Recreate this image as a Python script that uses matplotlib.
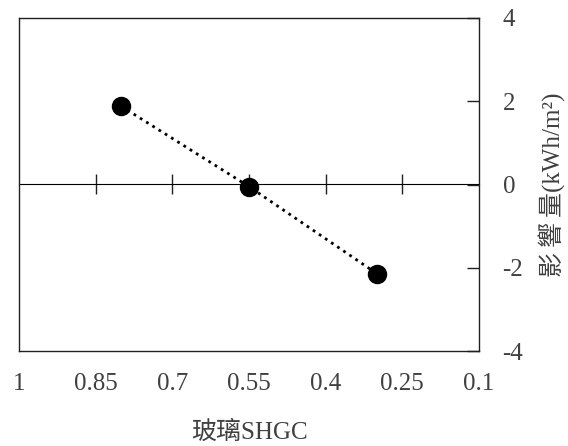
import matplotlib
matplotlib.use("Agg")
import matplotlib.pyplot as plt

# data
shgc = [0.8, 0.55, 0.3]
impact = [1.88, -0.05, -2.14]
x_ticks = [1, 0.85, 0.7, 0.55, 0.4, 0.25, 0.1]
x_tick_labels = ["1", "0.85", "0.7", "0.55", "0.4", "0.25", "0.1"]
y_ticks = [-4, -2, 0, 2, 4]

plt.rcParams['font.family'] = ['Liberation Serif', 'Noto Sans CJK TC']
plt.rcParams['axes.unicode_minus'] = False
text_color = '#404040'
line_color = '#202020'

fig = plt.figure(figsize=(5.68, 4.46), dpi=100)
ax = fig.add_axes([19 / 568, 1 - 351 / 446, 460 / 568, 333 / 446])

ax.plot(shgc, impact, linestyle=':', color='black', linewidth=2,
        marker='o', markersize=13, markerfacecolor='black', zorder=3)

ax.set_xlim(1, 0.1)
ax.set_ylim(-4, 4)

for s in ax.spines.values():
    s.set_linewidth(1)
    s.set_color(line_color)

# x labels sit under the box, no tick marks there
ax.set_xticks(x_ticks)
ax.set_xticklabels(x_tick_labels)
ax.tick_params(axis='x', length=0, pad=16, labelsize=18, labelcolor=text_color)

# tick marks live on the zero line (inner ones only)
zero_axis = ax.secondary_xaxis(0.5)
zero_axis.set_xticks(x_ticks[1:-1])
zero_axis.set_xticklabels([])
zero_axis.tick_params(axis='x', direction='inout', length=14, width=1,
                      color=line_color)
zero_axis.spines['bottom'].set_linewidth(1)
zero_axis.spines['bottom'].set_color(line_color)

ax.yaxis.tick_right()
ax.yaxis.set_label_position('right')
ax.set_yticks(y_ticks)
ax.tick_params(axis='y', direction='in', length=9, width=1, pad=17,
               labelsize=18, labelcolor=text_color, color=line_color)

ax.set_xlabel('玻璃SHGC', fontsize=18, color=text_color, labelpad=18)
ax.set_ylabel('影\u2009響\u2009量(kWh/m²)', fontsize=18, color=text_color,
              rotation=90, labelpad=11)

fig.savefig('out.png', dpi=100)
